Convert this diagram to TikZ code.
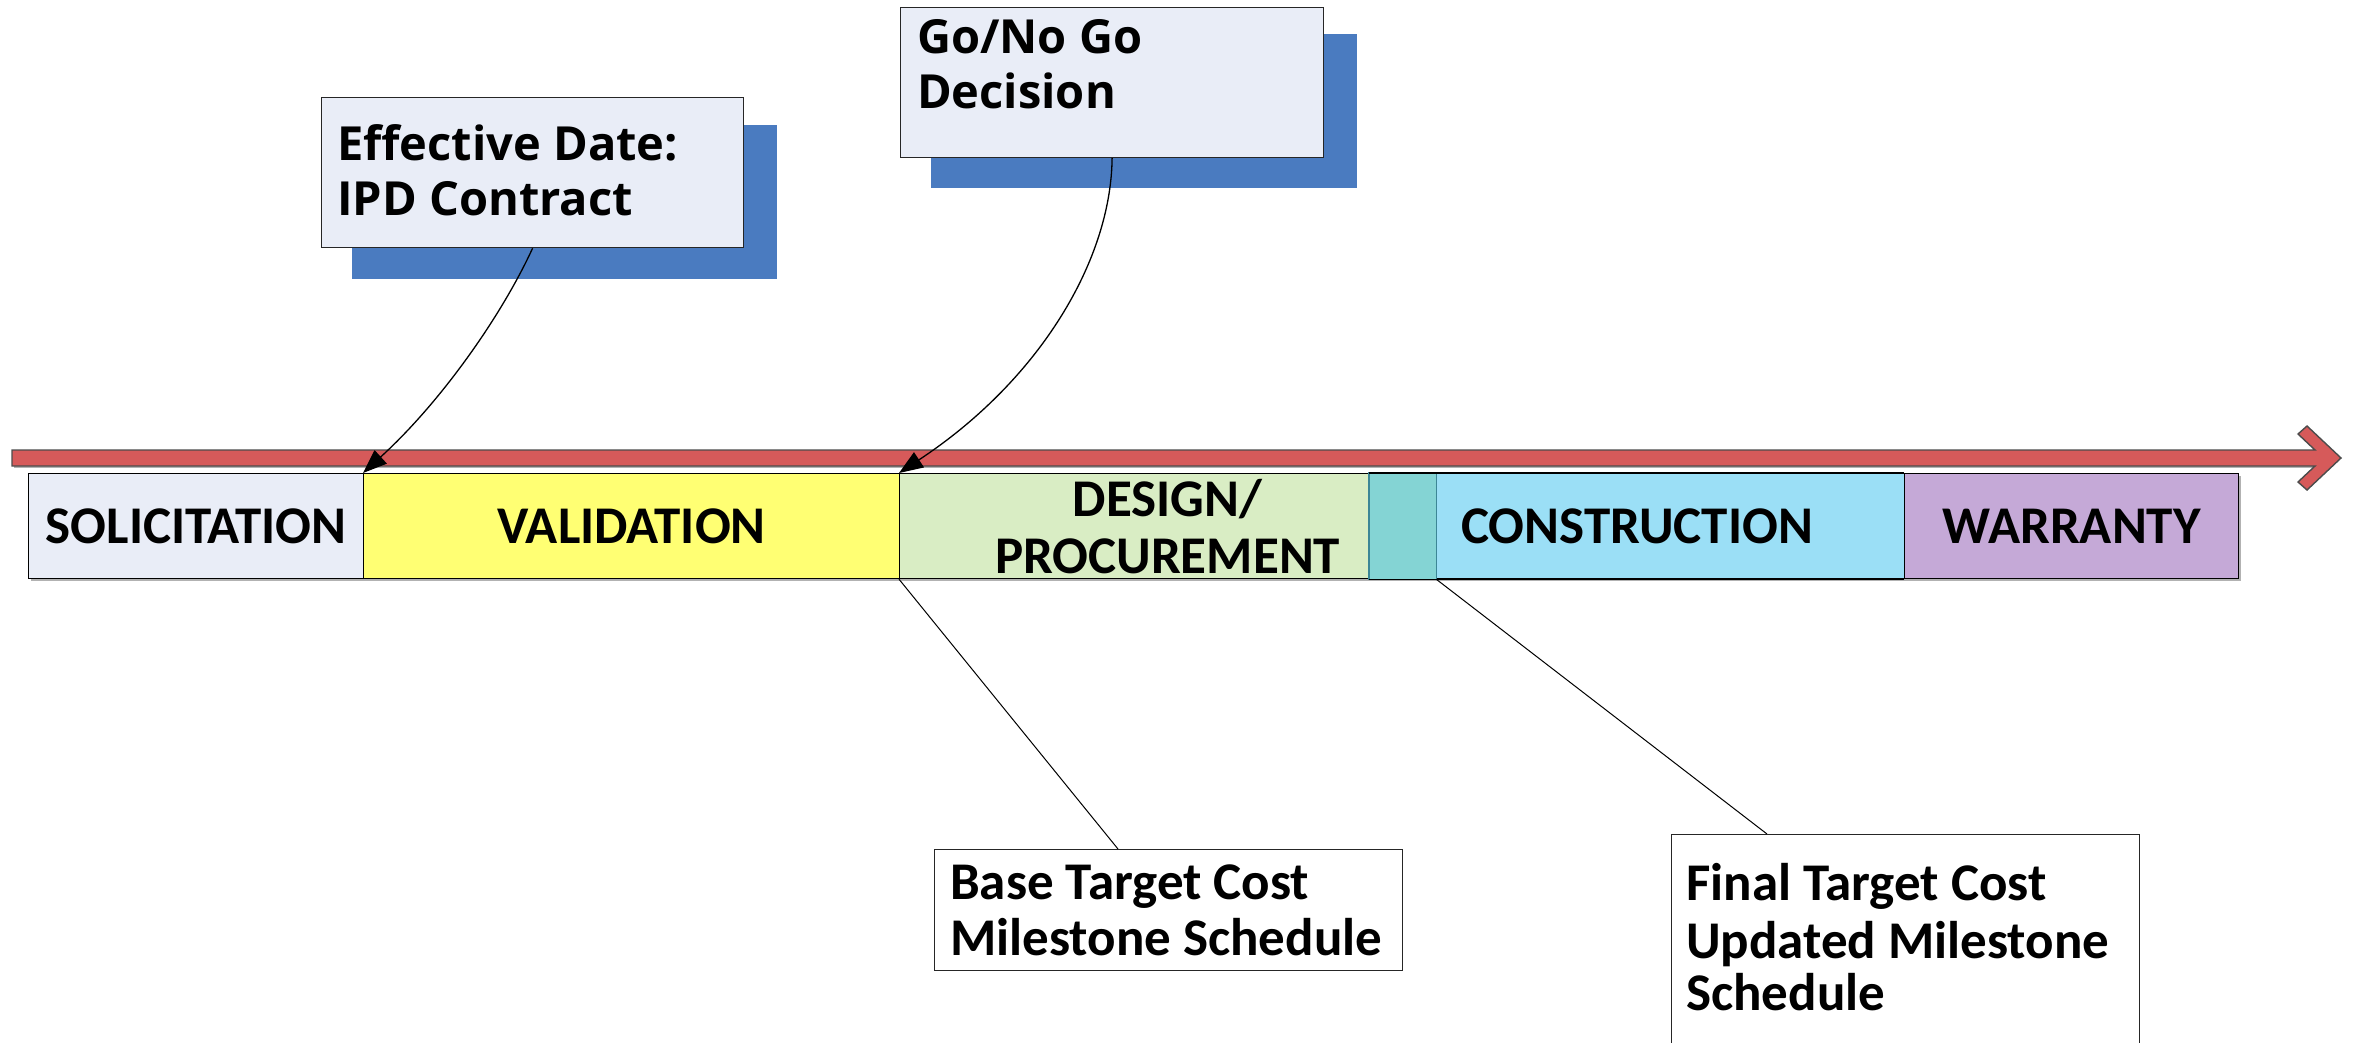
\documentclass[tikz,border=0pt]{standalone}
\usepackage{fontspec}
\setmainfont{Carlito}
\newfontfamily\calloutfont{Open Sans}
\usetikzlibrary{arrows.meta,calc}

\definecolor{solfill}{HTML}{E9EDF7}
\definecolor{valfill}{HTML}{FFFF73}
\definecolor{desfill}{HTML}{D9EDC4}
\definecolor{tealfill}{HTML}{84D4D4}
\definecolor{tealline}{HTML}{3C8696}
\definecolor{confill}{HTML}{9BDFF6}
\definecolor{warfill}{HTML}{C5A9D7}
\definecolor{barfill}{HTML}{D65A5A}
\definecolor{shadeblue}{HTML}{4A7BC0}

\begin{document}
\begin{tikzpicture}[x=1pt,y=-1pt,
  phase/.style={draw=black, line width=1.2pt, inner sep=0pt, minimum height=105pt,
    anchor=north west, align=center,
    font=\bfseries\fontsize{53}{56}\selectfont},
  shadebox/.style={fill=shadeblue, draw=none, inner sep=0pt, anchor=north west},
  callout/.style={fill=solfill, draw=black!85, line width=1.2pt, inner sep=0pt, anchor=north west},
  notebox/.style={fill=white, draw=black!85, line width=1.2pt, inner sep=0pt, anchor=north west},
  ctext/.style={anchor=base west, inner sep=0pt,
    font=\calloutfont\bfseries\fontsize{47}{52}\selectfont},
  ntext/.style={anchor=base west, inner sep=0pt,
    font=\bfseries\fontsize{53}{56}\selectfont},
  conn/.style={draw=black, line width=1.3pt},
  tip/.style={-{Triangle[length=24pt,width=18pt]}}
]
\path[use as bounding box] (0,0) rectangle (2354,1042);
\clip (0,0) rectangle (2354,1042);

% timeline arrow
\fill[black!30] (14,454) -- (2317,454) -- (2317,468) -- (14,468) -- cycle;
\draw[fill=barfill, draw=black!70, line width=1.4pt, line join=miter]
  (12,450) -- (2315,450) -- (2298,434) -- (2307,426) -- (2341,458)
  -- (2307,490) -- (2298,482) -- (2315,466) -- (12,466) -- cycle;

% phase row
\fill[black!30] (31,476) rectangle (2241,581);
\node[phase, fill=solfill, minimum width=335] (sol) at (28,473) {SOLICITATION};
\node[phase, fill=valfill, minimum width=536] (val) at (363,473) {VALIDATION};
\node[phase, fill=desfill, minimum width=536] (des) at (899,473) {DESIGN/\\[1pt]PROCUREMENT};
\node[phase, fill=confill, minimum width=535] (con) at (1369,473) {};
\node[phase, fill=warfill, minimum width=334] (war) at (1904,473) {WARRANTY};
\draw[fill=tealfill, draw=tealline, line width=1.2pt] (con.north west) rectangle (des.south east);
\draw[black, line width=1.2pt] (con.north west) -- (war.north west) (con.south west) -- (war.south west);
\node[font=\bfseries\fontsize{53}{56}\selectfont, inner sep=0pt] (contxt) at (con.center) {CONSTRUCTION};

% upper callouts with blue backing panels
\node[shadebox, minimum width=425, minimum height=154] (effsh) at (352,125) {};
\node[callout, minimum width=422, minimum height=150] (eff) at (321,97) {};
\node[ctext] (eff1) at (337,160) {Effective Date:};
\node[ctext] (eff2) at (337,215) {IPD Contract};

\node[shadebox, minimum width=426, minimum height=154] (gosh) at (931,34) {};
\node[callout, minimum width=423, minimum height=150] (go) at (900,7) {};
\node[ctext] (go1) at (917,53) {Go/No Go};
\node[ctext] (go2) at (917,108) {Decision};

% lower notes
\node[notebox, minimum width=468, minimum height=121] (base) at (934,849) {};
\node[ntext] (base1) at (950,899) {Base Target Cost};
\node[ntext] (base2) at (950,955) {Milestone Schedule};

\node[notebox, minimum width=468, minimum height=260] (fin) at (1671,834) {};
\node[ntext] (fin1) at (1686,900) {Final Target Cost};
\node[ntext] (fin2) at (1686,958) {Updated Milestone};
\node[ntext] (fin3) at (1686,1010) {Schedule};

% connectors
\draw[conn, tip] (eff.south) .. controls (501,317) and (440,403) .. (val.north west);
\draw[conn, tip] (go.south) .. controls (1111,260) and (1040,380) .. (des.north west);
\draw[conn, line width=1pt] (des.south west) -- ([xshift=184pt]base.north west);
\draw[conn, line width=1pt] (des.south east) -- ([xshift=96pt]fin.north west);
\end{tikzpicture}
\end{document}
